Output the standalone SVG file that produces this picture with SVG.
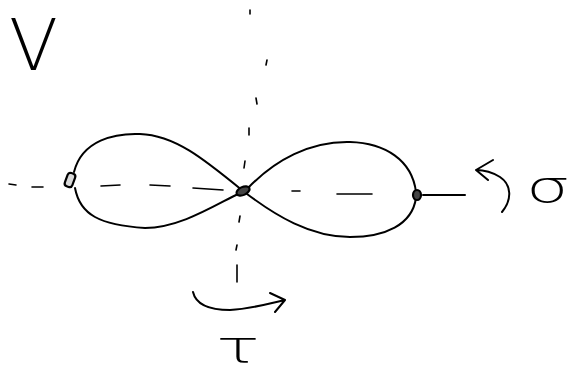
<svg xmlns="http://www.w3.org/2000/svg" width="573" height="373" viewBox="0 0 573 373">
<style>
.ink{fill:none;stroke:#000;stroke-width:2;stroke-linecap:round;stroke-linejoin:round}
.dash{fill:none;stroke:#000;stroke-width:1.6;stroke-linecap:round}
.node{fill:#444;stroke:#000;stroke-width:2.2}
.lbl{font-family:"DejaVu Sans","Liberation Sans",sans-serif;font-weight:200;fill:#000}
</style>
<rect width="573" height="373" fill="#fff"/>
<g id="axes">
<path class="dash" d="M9,184 L16,185 M32,187 L43,187 M101,186 L120,185 M150,185 L170,186 M193,188 L223,190 M292,191 L300,191 M337,194 L372,194"/>
<path class="dash" d="M250,10 L250,14 M267,60 L266,65 M256,98 L257,104 M249,128 L249,135 M245,161 L244,168 M240,216 L239,222 M237,245 L236,250 M237,265 L237,282"/>
</g>
<g id="connectors">
<path class="ink" d="M74,172 C82,140 115,133 140,134 C175,135 205,160 243,191"/>
<path class="ink" d="M75,188 C80,215 100,225 145,228 C180,228 215,205 240,193"/>
<path class="ink" d="M248,188 C275,160 310,141 350,142 C385,143 412,160 416,192"/>
<path class="ink" d="M416,198 C412,225 385,237 350,237 C310,237 275,215 247,194"/>
<path class="ink" d="M423,195 L465,195"/>
<path class="ink" d="M502,212 C512,200 512,185 500,177 C492,172 484,170 476,170 M493,160 L476,170 L488,180"/>
<path class="ink" stroke-width="2.4" d="M193,292 C196,305 210,310 230,310 C250,309 268,304 285,300 M270,293 L285,300 L275,312"/>
</g>
<g id="node-left"><rect class="node" x="66" y="173" width="8" height="14" rx="3" transform="rotate(20 70 180)" fill-opacity="0.2"/></g>
<g id="node-center"><ellipse class="node" cx="243" cy="191" rx="7" ry="4" transform="rotate(-25 243 191)"/></g>
<g id="node-right"><ellipse class="node" cx="417" cy="195" rx="4" ry="5"/></g>
<g id="labels">
<text class="lbl" x="9" y="70" font-size="72" textLength="49" lengthAdjust="spacingAndGlyphs">V</text>
<text class="lbl" x="526" y="202" font-size="44" textLength="44" lengthAdjust="spacingAndGlyphs">σ</text>
<text class="lbl" x="216" y="362" font-size="44" textLength="44" lengthAdjust="spacingAndGlyphs">τ</text>
</g>
</svg>
